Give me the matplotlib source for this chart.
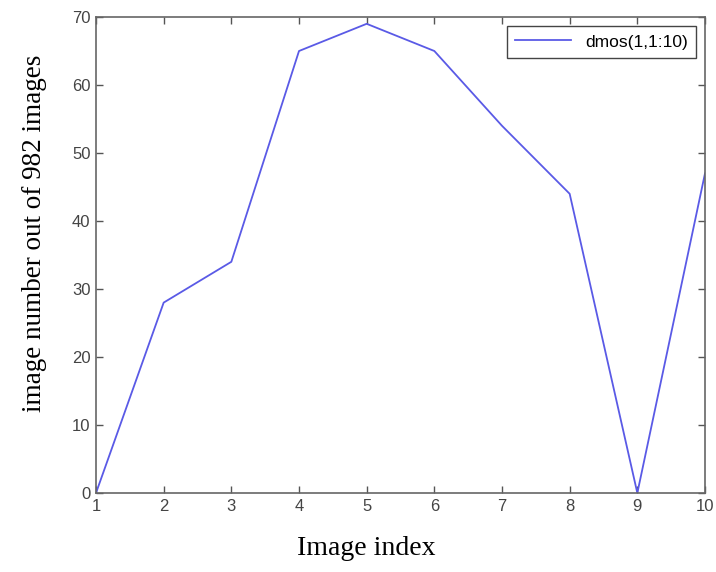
import matplotlib
matplotlib.use("Agg")
import matplotlib.pyplot as plt

x_index = [1, 2, 3, 4, 5, 6, 7, 8, 9, 10]
dmos_values = [0, 28, 34, 65, 69, 65, 54, 44, 0, 47]
x_ticks = [1, 2, 3, 4, 5, 6, 7, 8, 9, 10]
y_ticks = [0, 10, 20, 30, 40, 50, 60, 70]

fig = plt.figure(figsize=(7.16, 5.72), dpi=100)
ax = fig.add_axes([96/716, 79/572, (705-96)/716, (493-17)/572])

ax.plot(x_index, dmos_values, color="#5a5ae6", linewidth=1.3, label="dmos(1,1:10)")

ax.set_xlim(1, 10)
ax.set_ylim(0, 70)
ax.set_xticks(x_ticks)
ax.set_yticks(y_ticks)
ax.tick_params(direction="in", top=True, right=True, length=5, width=1,
               colors="#555555", labelcolor="#444444", labelsize=12, pad=4)
for lab in ax.get_xticklabels() + ax.get_yticklabels():
    lab.set_fontfamily("Liberation Sans")
for s in ax.spines.values():
    s.set_color("#666666")
    s.set_linewidth(1.2)

ax.set_xlabel("Image index", fontfamily="Liberation Serif", fontsize=20)
ax.set_ylabel("image number out of 982 images", fontfamily="Liberation Serif", fontsize=19.5)
ax.xaxis.set_label_coords(0.443, -0.09)
ax.yaxis.set_label_coords(-0.08, 0.545)

leg = ax.legend(loc="upper right", prop={"family": "Liberation Sans", "size": 12.5},
                fancybox=False, framealpha=1, edgecolor="#444444",
                handlelength=3.2, borderaxespad=0.5, borderpad=0.5)
leg.get_frame().set_linewidth(1.0)

fig.savefig("out.png", dpi=100)
